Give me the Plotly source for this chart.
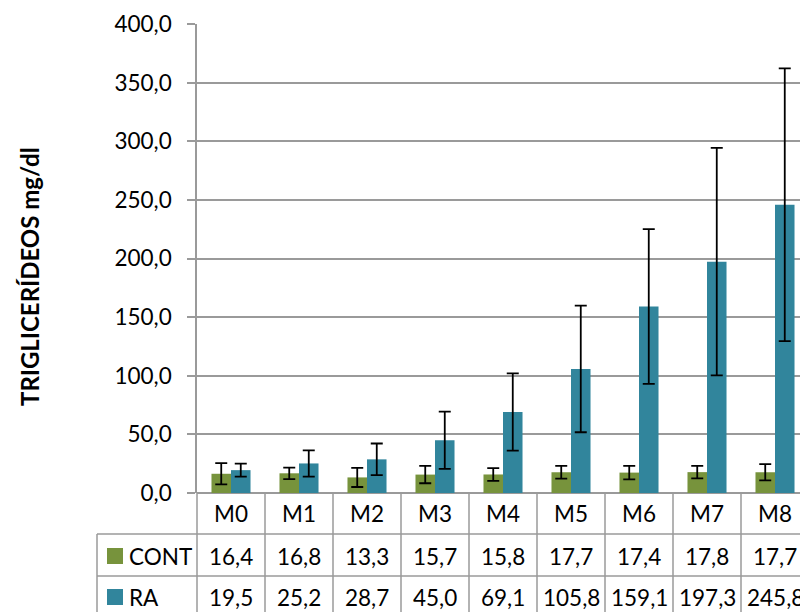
import plotly.graph_objects as go

categories = ["M0", "M1", "M2", "M3", "M4", "M5", "M6", "M7", "M8"]
cont_values = [16.4, 16.8, 13.3, 15.7, 15.8, 17.7, 17.4, 17.8, 17.7]
ra_values = [19.5, 25.2, 28.7, 45.0, 69.1, 105.8, 159.1, 197.3, 245.8]
cont_err = [9.0, 4.9, 8.2, 7.4, 5.4, 5.4, 5.7, 5.4, 7.0]
ra_err = [5.6, 11.2, 13.5, 24.4, 33.0, 54.0, 66.0, 97.0, 116.3]
series_names = ["CONT", "RA"]
y_title = "TRIGLICERÍDEOS mg/dl"
y_ticks = [0, 50, 100, 150, 200, 250, 300, 350, 400]

GREEN = "#77933C"
TEAL = "#31859C"
GRID = "#9a9a9a"
FONT = "Lato"
TXT = 22.5

W, H = 800, 612
L, R, T, B = 197, 800, 24, 493
col_px = 68.0
x_lo = -0.5
x_hi = x_lo + (R - L) / col_px


def fx(xpx):
    return (xpx - L) / (R - L)


def fy(ypx):
    return (B - ypx) / (B - T)


def fmt(v):
    return f"{v:.1f}".replace(".", ",")


fig = go.Figure()
fig.add_trace(go.Bar(
    x=categories, y=cont_values, name=series_names[0], marker_color=GREEN,
    marker_line_width=0,
    error_y=dict(type="data", array=cont_err, visible=True, color="black",
                 thickness=1.8, width=6),
))
fig.add_trace(go.Bar(
    x=categories, y=ra_values, name=series_names[1], marker_color=TEAL,
    marker_line_width=0,
    error_y=dict(type="data", array=ra_err, visible=True, color="black",
                 thickness=1.8, width=6),
))

fig.update_layout(
    width=W, height=H,
    margin=dict(l=L, r=W - R, t=T, b=H - B, pad=0),
    paper_bgcolor="white", plot_bgcolor="white",
    barmode="group", bargap=0.426, bargroupgap=0,
    showlegend=False,
    separators=", ",
    font=dict(family=FONT, size=TXT, color="black"),
)
fig.update_xaxes(
    range=[x_lo, x_hi], showticklabels=False, ticks="",
    showgrid=False, zeroline=False, showline=False, fixedrange=True,
)
fig.update_yaxes(
    range=[0, 400], tickvals=y_ticks, tickformat=".1f",
    showgrid=True, gridcolor=GRID, gridwidth=1.5,
    zeroline=True, zerolinecolor=GRID, zerolinewidth=1.5,
    showline=True, linecolor=GRID, linewidth=1.5,
    ticks="outside", ticklen=8, tickcolor=GRID, tickwidth=1.5,
    ticklabelstandoff=11,
    tickfont=dict(family=FONT, size=TXT, color="black"),
)

line_style = dict(color=GRID, width=1.5)
row1_bottom = 534
row2_bottom = 576
table_bottom = 640
table_left = 97

# horizontal table lines
for ypx in (row1_bottom, row2_bottom):
    fig.add_shape(type="line", xref="paper", yref="paper",
                  x0=fx(table_left), x1=1.05, y0=fy(ypx), y1=fy(ypx),
                  line=line_style)
# left border of legend column
fig.add_shape(type="line", xref="paper", yref="paper",
              x0=fx(table_left), x1=fx(table_left),
              y0=fy(row1_bottom), y1=fy(table_bottom), line=line_style)
# left border of data area (continues y axis line)
fig.add_shape(type="line", xref="paper", yref="paper",
              x0=0, x1=0, y0=0, y1=fy(table_bottom), line=line_style)
# column separators
for k in range(len(categories)):
    fig.add_shape(type="line", xref="x", yref="paper",
                  x0=k + 0.5, x1=k + 0.5, y0=0, y1=fy(table_bottom),
                  line=line_style)

# table text
row_centers = [(B + row1_bottom) / 2, (row1_bottom + row2_bottom) / 2 + 1,
               (row2_bottom + 618) / 2]
for i, c in enumerate(categories):
    fig.add_annotation(x=i, y=fy(row_centers[0]), xref="x", yref="paper",
                       text=c, showarrow=False, xanchor="center", yanchor="middle",
                       font=dict(family=FONT, size=TXT, color="black"))
    fig.add_annotation(x=i, y=fy(row_centers[1]), xref="x", yref="paper",
                       text=fmt(cont_values[i]), showarrow=False,
                       xanchor="center", yanchor="middle",
                       font=dict(family=FONT, size=TXT, color="black"))
    fig.add_annotation(x=i, y=fy(row_centers[2]), xref="x", yref="paper",
                       text=fmt(ra_values[i]), showarrow=False,
                       xanchor="center", yanchor="middle",
                       font=dict(family=FONT, size=TXT, color="black"))

# legend keys in table
for name, color, yc in ((series_names[0], GREEN, row_centers[1]),
                        (series_names[1], TEAL, row_centers[2])):
    fig.add_shape(type="rect", xref="paper", yref="paper",
                  x0=fx(107), x1=fx(123), y0=fy(yc + 8), y1=fy(yc - 8),
                  fillcolor=color, line=dict(width=0))
    fig.add_annotation(x=fx(127), y=fy(yc), xref="paper", yref="paper",
                       text=name, showarrow=False, xanchor="left", yanchor="middle",
                       font=dict(family=FONT, size=TXT, color="black"))

# y axis title
fig.add_annotation(x=fx(29), y=fy(277), xref="paper", yref="paper",
                   text="<b>" + y_title + "</b>", textangle=-90, showarrow=False,
                   xanchor="center", yanchor="middle",
                   font=dict(family=FONT, size=24, color="black"))

fig.write_html(
    "out.html",
    config={"displayModeBar": False},
    post_script="document.body.style.margin='0';document.body.style.overflow='hidden';",
)
